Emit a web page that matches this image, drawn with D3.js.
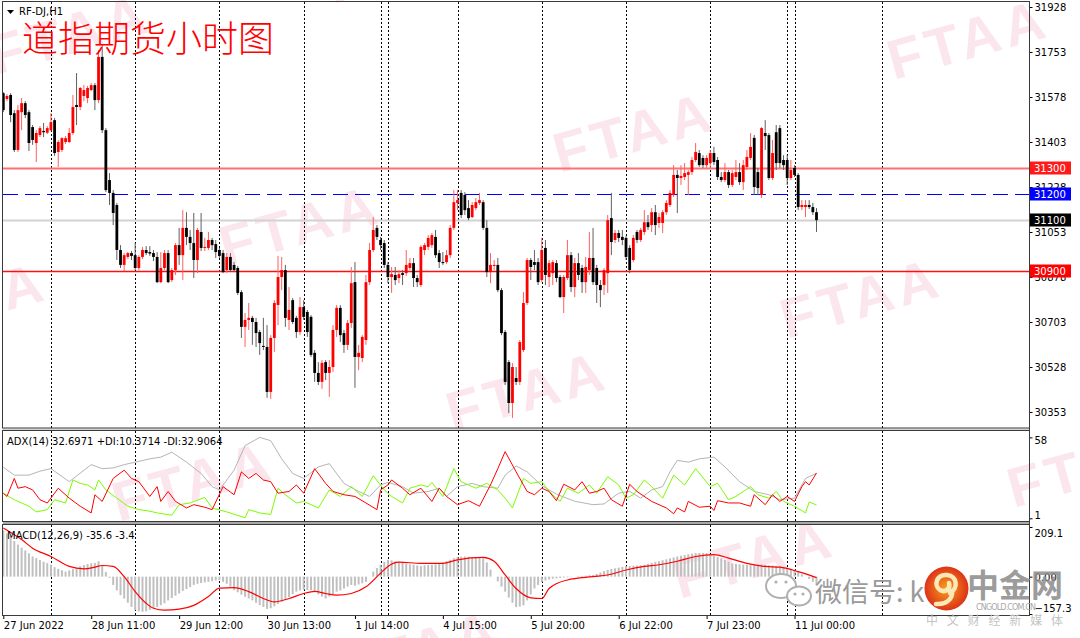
<!DOCTYPE html>
<html>
<head>
<meta charset="utf-8">
<script src="https://cdn.jsdelivr.net/npm/d3@7"></script>
<style>
  html, body { margin: 0; padding: 0; background: #fff; }
  svg { display: block; font-family: "DejaVu Sans", sans-serif; }
</style>
</head>
<body>
<svg id="chart" width="1080" height="638"></svg>
<script>
// ---- data ----
// hourly candles, [open, high, low, close]
const ohlc = [
  [31593,31597,31519,31527],[31570,31589,31562,31582],[31586,31593,31480,31508],[31515,31527,31364,31372],
  [31372,31547,31364,31527],[31519,31574,31449,31554],[31554,31562,31496,31508],[31519,31527,31368,31399],
  [31461,31469,31392,31411],[31399,31449,31325,31438],[31430,31465,31422,31457],[31446,31477,31422,31441],
  [31439,31465,31434,31457],[31449,31515,31445,31480],[31488,31496,31349,31360],[31364,31411,31306,31403],
  [31372,31422,31364,31418],[31403,31426,31395,31418],[31403,31457,31399,31438],[31438,31586,31430,31539],
  [31547,31671,31469,31539],[31539,31617,31527,31613],[31582,31625,31562,31605],[31574,31621,31554,31613],
  [31605,31632,31601,31624],[31624,31632,31527,31566],[31566,31761,31554,31734],[31734,31780,31438,31449],
  [31449,31457,31208,31216],[31255,31282,31158,31205],[31205,31216,31080,31127],[31158,31166,30944,30983],
  [30983,31002,30913,30925],[30925,30971,30901,30963],[30956,30975,30948,30971],[30971,30979,30944,30960],
  [30963,31010,30905,30913],[30913,30963,30905,30956],[30956,30995,30948,30983],[30983,30998,30963,30971],
  [30975,30998,30960,30969],[30971,30983,30940,30956],[30956,30975,30854,30858],[30858,30975,30854,30913],
  [30913,30983,30905,30971],[30971,30983,30854,30858],[30866,30913,30858,30905],[30905,31010,30886,31002],
  [31002,31069,30925,30963],[30963,31138,30866,31069],[31069,31130,31002,31034],[31034,31061,30983,31010],
  [31010,31127,30874,30944],[30944,31069,30893,31061],[31053,31127,30979,30991],[30991,31030,30979,30995],
  [30991,31053,30983,31022],[31022,31030,30983,31002],[31006,31022,30952,30975],[30983,30991,30952,30960],
  [30971,30983,30893,30897],[30905,30971,30893,30956],[30956,30971,30897,30905],[30925,30936,30897,30905],
  [30913,30921,30808,30816],[30819,30827,30641,30684],[30684,30738,30606,30711],[30711,30777,30672,30719],
  [30719,30727,30614,30703],[30703,30719,30606,30660],[30664,30672,30575,30621],[30610,30719,30594,30606],
  [30606,30691,30408,30431],[30431,30652,30404,30641],[30641,30788,30587,30777],[30769,30960,30691,30878],
  [30878,30956,30827,30905],[30905,30925,30684,30719],[30711,30839,30672,30750],[30788,30796,30695,30703],
  [30719,30727,30641,30664],[30664,30800,30652,30761],[30761,30788,30711,30723],[30742,30750,30645,30664],
  [30723,30730,30567,30575],[30583,30594,30470,30505],[30505,30547,30458,30470],[30470,30555,30443,30544],
  [30547,30555,30477,30505],[30505,30555,30412,30528],[30528,30691,30509,30672],[30672,30769,30645,30758],
  [30758,30769,30625,30652],[30660,30672,30583,30614],[30614,30711,30594,30699],[30699,30917,30680,30854],
  [30858,30936,30447,30567],[30567,30614,30516,30583],[30563,30652,30547,30645],[30633,30886,30614,30858],
  [30858,31010,30847,30983],[30983,31111,30975,31061],[31069,31080,31022,31034],[31022,31034,30983,31002],
  [31010,31022,30913,30925],[30925,30936,30854,30878],[30878,30917,30816,30889],[30886,30917,30847,30866],
  [30874,30905,30854,30889],[30893,30905,30847,30886],[30893,30983,30882,30925],[30913,30952,30905,30932],
  [30932,30952,30839,30874],[30874,30886,30839,30858],[30847,31002,30839,30995],[30983,31010,30963,31002],
  [30995,31041,30983,31030],[31002,31049,30991,31041],[31034,31061,30952,30963],[30971,30983,30913,30936],
  [30936,30975,30925,30932],[30936,30983,30929,30963],[30963,31080,30952,31069],[31069,31216,31061,31169],
  [31166,31216,31138,31177],[31205,31216,31107,31119],[31197,31208,31119,31138],[31146,31177,31099,31107],
  [31111,31169,31107,31158],[31146,31185,31138,31169],[31166,31205,31158,31177],[31169,31177,31061,31069],
  [31069,31099,30878,30897],[30897,30971,30854,30925],[30921,30944,30905,30925],[30925,30952,30819,30827],
  [30827,30835,30652,30660],[30664,30672,30458,30470],[30547,30555,30349,30388],[30388,30543,30330,30528],
  [30485,30528,30458,30470],[30470,30633,30458,30625],[30594,30819,30586,30777],[30777,30952,30769,30944],
  [30944,30952,30866,30917],[30936,30983,30905,30925],[30936,30952,30847,30858],[30866,31030,30858,30983],
  [30991,31022,30847,30886],[30878,30944,30839,30932],[30893,30944,30847,30936],[30932,30944,30858,30874],
  [30878,30886,30796,30800],[30800,30886,30738,30878],[30874,31022,30866,30963],[30963,30975,30819,30839],
  [30839,30952,30800,30932],[30932,30971,30866,30886],[30913,30925,30816,30858],[30858,30956,30816,30917],
  [30905,31053,30886,30952],[30952,31069,30847,30858],[30913,30925,30777,30847],[30847,30866,30761,30827],
  [30847,30913,30808,30905],[30893,31119,30816,31099],[31107,31205,30963,31014],[31022,31061,31010,31049],
  [31049,31061,31014,31030],[31034,31061,31002,31022],[31030,31038,30944,30956],[30991,31002,30893,30905],
  [30944,31041,30936,31030],[31053,31061,31010,31022],[31022,31069,31014,31061],[31053,31138,31041,31091],
  [31091,31119,31061,31072],[31080,31146,31053,31130],[31130,31158,31041,31080],[31088,31127,31069,31111],
  [31088,31138,31049,31130],[31130,31177,31119,31166],[31158,31216,31150,31205],[31197,31313,31189,31275],
  [31275,31294,31127,31263],[31263,31313,31236,31271],[31267,31321,31255,31282],[31275,31294,31197,31286],
  [31286,31345,31275,31333],[31333,31399,31325,31364],[31360,31372,31306,31313],[31341,31352,31302,31313],
  [31313,31352,31302,31341],[31321,31372,31302,31360],[31360,31384,31313,31325],[31333,31345,31255,31267],
  [31267,31286,31247,31255],[31255,31321,31247,31286],[31286,31294,31224,31236],[31236,31294,31228,31282],
  [31267,31333,31255,31286],[31286,31321,31236,31247],[31247,31333,31216,31313],[31306,31372,31294,31345],
  [31341,31438,31333,31384],[31419,31430,31197,31228],[31286,31302,31197,31224],[31197,31461,31185,31457],
  [31438,31488,31372,31426],[31430,31438,31255,31263],[31263,31411,31255,31360],[31441,31469,31294,31321],
  [31457,31469,31302,31321],[31333,31352,31294,31313],[31333,31352,31236,31263],[31263,31333,31255,31294],
  [31302,31313,31267,31275],[31275,31282,31138,31150],[31150,31177,31138,31158],[31150,31177,31111,31158],
  [31158,31177,31142,31150],[31150,31166,31119,31130],[31130,31146,31053,31099]
];

const priceTicks = [31928, 31753, 31578, 31403, 31228, 31053, 30878, 30703, 30528, 30353];
const levelPrices = [31300, 31200, 31100, 30900];

// bar index where each day starts (period separators)
const dayStartBars = [13, 36, 59, 82, 103, 105, 124, 147, 170, 193, 214, 216, 240];
const timeLabelBars = [0, 24, 48, 72, 96, 120, 144, 168, 192, 216];
const timeLabelText = ["27 Jun 2022", "28 Jun 11:00", "29 Jun 12:00", "30 Jun 13:00", "1 Jul 14:00",
  "4 Jul 15:00", "5 Jul 20:00", "6 Jul 22:00", "7 Jul 23:00", "11 Jul 00:00"];

// ADX(14) lines as [bar, value] vertices
const adxMain = [[0,37],[3,31.4],[7,31.4],[10,34.2],[13,36],[18,26.8],[24,38.8],[27,36],[30,36.5],[33,38.8],
  [37,41.1],[40,42.9],[43,44.1],[46,47.6],[50,40.6],[54,32.6],[57,23.3],[59,21],[63,34.9],[66,52.2],[70,58],
  [73,55.7],[76,42.9],[79,32.6],[82,29.1],[86,37.2],[89,39.5],[93,25.6],[97,19.9],[100,16.4],[103,24.5],
  [105,26.3],[109,23.3],[112,18.7],[116,19.9],[119,22.2],[121,16.4],[124,23.3],[128,25.6],[131,23.3],
  [135,22.2],[137,31.4],[140,37.9],[143,33.7],[147,24],[151,18],[156,13],[161,10.6],[164,11.1],[168,18.7],
  [171,20],[174,15.2],[177,21],[180,23.3],[182,33.7],[184,41.8],[187,40.6],[190,42.9],[194,44.1],[197,37.2],
  [201,26.8],[205,19.9],[209,17.6],[212,14.1],[216,15.2],[219,29.1],[222,32.7]];
const plusDI = [[0,18.7],[3,14.1],[7,9.5],[9,5.5],[12,7.1],[14,14.1],[17,11.8],[19,28],[21,25.6],[23,24.5],
  [25,21],[26,28],[28,21],[31,15.2],[34,9.5],[37,7.1],[40,6],[42,4.8],[46,3.2],[48,10.6],[51,11.8],[55,15.7],
  [57,8.3],[61,5.5],[66,1.4],[67,7.1],[70,4.8],[73,3.7],[75,22.2],[77,17.6],[80,11.8],[82,12.9],[86,8.3],
  [89,21],[92,16.4],[95,23.3],[98,16.4],[101,31],[104,21],[106,16.4],[109,11.8],[111,22.2],[114,24.5],
  [116,23.3],[117,26.3],[120,16.4],[123,36],[125,26.8],[129,22.2],[132,25.6],[135,21],[137,15.2],[139,8.3],
  [142,29.1],[144,25.6],[147,26.8],[149,19.9],[152,12.9],[154,22.2],[157,18.7],[160,24.5],[162,18.7],
  [165,30.3],[168,24.5],[170,15.2],[172,17.6],[175,28],[177,23.3],[180,15.2],[183,31.4],[186,24.5],[189,36],
  [193,23.3],[195,25.6],[198,14.1],[200,16.4],[204,23.3],[206,17.6],[209,15.2],[211,19.9],[213,12.9],
  [216,9.5],[219,4.8],[220,12.5],[222,10.4]];
const minusDI = [[0,18.7],[1,16.4],[3,29.1],[4,22.2],[6,23.3],[8,21],[10,14.1],[12,11.8],[15,22.2],[18,15.2],
  [21,9.5],[24,4.8],[25,17.6],[27,12.9],[30,29.1],[33,34.9],[35,29.1],[37,26.8],[40,16.4],[42,23.3],[43,12.9],
  [45,19.9],[47,12.9],[50,8.3],[52,10.6],[55,8.8],[57,7.1],[60,23.3],[63,17.6],[65,33.7],[67,29.1],[69,32.6],
  [71,28],[73,26.8],[75,18.7],[78,19.9],[80,24.5],[82,18.7],[85,36],[88,25.6],[90,19.9],[93,17.6],[96,16.4],
  [99,11.8],[102,7.1],[103,21],[105,24.5],[106,28],[109,22.2],[111,17.6],[114,22.2],[117,12.9],[119,22.2],
  [121,16.4],[124,10.6],[127,13.4],[130,9.5],[133,24.5],[135,36],[137,48],[140,33.7],[143,19.9],[145,17.6],
  [147,22.2],[149,19.9],[151,13.4],[153,25],[156,21],[158,26.8],[160,18.7],[162,19.9],[164,22.2],[166,14.1],
  [169,9.5],[171,25],[173,19.9],[177,12.9],[181,8.3],[183,4.2],[184,8.3],[186,5.5],[187,12.9],[190,8.8],
  [193,9.5],[194,6.5],[195,13.4],[198,11.8],[201,11.8],[204,9.5],[205,17.6],[208,10.6],[210,17.6],[212,12.9],
  [214,16.4],[216,12.9],[218,23.3],[219,26.8],[220,24.5],[222,32.9]];

// MACD(12,26,9): histogram per bar, signal as [bar, value]
const macdHist = [195,182,170,150,135,122,110,98,85,78,70,63,57,50,40,33,27,21,26,33,36,44,49,53,56,58,65,
  45,20,-5,-35,-58,-78,-92,-110,-127,-141,-146,-148,-146,-140,-133,-128,-120,-112,-100,-90,-80,-71,-60,-52,
  -44,-35,-30,-27,-24,-22,-19,-16,-14,-22,-30,-42,-57,-66,-76,-85,-92,-100,-110,-120,-128,-136,-133,-125,
  -115,-106,-96,-86,-74,-63,-58,-55,-56,-57,-66,-75,-84,-92,-84,-74,-63,-58,-50,-42,-35,-38,-33,-28,-22,
  0,21,36,50,62,71,69,65,62,58,55,52,50,47,45,48,49,50,52,55,60,66,71,78,82,84,85,84,82,80,79,78,60,30,0,
  -20,-42,-63,-88,-110,-128,-126,-121,-100,-75,-50,-35,-22,-16,-12,-9,-7,-5,-4,-3,-1,0,2,3,4,6,7,12,17,23,
  28,32,35,38,41,44,45,46,47,48,50,54,58,62,65,69,73,77,81,85,88,91,94,97,99,100,100,99,94,88,83,78,70,63,
  56,54,52,51,50,50,49,50,51,50,48,47,45,44,40,37,34,30,20,10,0,-10,-22,-36];
const macdSignal = [[0,205],[5,156],[8,120],[13,85],[18,43],[22,33],[25,40],[27,47],[30,43],[33,0],[36,-63],
  [39,-112],[41,-133],[44,-141],[48,-137],[52,-121],[56,-84],[59,-48],[63,-46],[67,-63],[71,-92],[74,-106],
  [78,-92],[82,-71],[85,-62],[88,-71],[91,-78],[95,-71],[99,-43],[103,15],[105,43],[108,61],[114,56],
  [120,56],[124,71],[131,81],[134,65],[137,7],[140,-50],[144,-89],[147,-92],[149,-50],[154,-14],[161,0],
  [165,7],[170,28],[175,43],[179,50],[184,65],[189,85],[194,93],[198,78],[203,56],[208,43],[212,40],
  [217,21],[222,-4]];

// ---- layout ----
const W = 1080, H = 638;
const L = 3, R = 1029;
const mainP = { top: 2, bottom: 428.5 };
const adxP = { top: 431, bottom: 522 };
const macdP = { top: 525, bottom: 616 };

const svg = d3.select("#chart");
const defs = svg.append("defs");

const x = d3.scaleLinear().domain([0, 222]).range([3.3, 816.5]);
const yMain = d3.scaleLinear().domain([30353, 31928]).range([412, 7]);
const yAdx = d3.scaleLinear().domain([1, 58]).range([518.3, 437.4]);
const yMacd = d3.scaleLinear().domain([-157.3, 209.1]).range([614, 527]);

svg.append("rect").attr("width", W).attr("height", H).attr("fill", "#fff");

function makeClip(id, p) {
  defs.append("clipPath").attr("id", id)
    .append("rect").attr("x", L).attr("y", p.top).attr("width", R - L).attr("height", p.bottom - p.top);
}
makeClip("clipMain", mainP);
makeClip("clipAdx", adxP);
makeClip("clipMacd", macdP);

// watermark "FTAA"
const wmCenters = [[70,34],[407,-37],[-34,302],[300,225],[634,132],[968,39],[193,481],[527,391],
  [861,298],[1195,205],[420,650],[754,558],[1088,467]];
svg.append("g").selectAll("text").data(wmCenters).join("text")
  .attr("transform", d => `translate(${d[0]},${d[1]}) rotate(-15.6)`)
  .attr("text-anchor", "middle").attr("dominant-baseline", "central")
  .attr("font-family", "Liberation Sans, Arial, sans-serif").attr("font-weight", "bold")
  .attr("font-size", 56).attr("letter-spacing", 5)
  .attr("fill", "#fce6ee")
  .text("FTAA");

// panel gaps
svg.append("rect").attr("x", L).attr("y", mainP.bottom).attr("width", R - L).attr("height", adxP.top - mainP.bottom).attr("fill", "#d4d4d4");
svg.append("rect").attr("x", L).attr("y", adxP.bottom).attr("width", R - L).attr("height", macdP.top - adxP.bottom).attr("fill", "#a8a8a8");

// period separators
[["clipMain", mainP], ["clipAdx", adxP], ["clipMacd", macdP]].forEach(([id, p]) => {
  svg.append("g").attr("clip-path", `url(#${id})`)
    .selectAll("line").data(dayStartBars).join("line")
    .attr("x1", d => Math.round(x(d)) + 0.5).attr("x2", d => Math.round(x(d)) + 0.5)
    .attr("y1", p.top).attr("y2", p.bottom)
    .attr("stroke", "#000").attr("stroke-width", 1).attr("stroke-dasharray", "2,2");
});

// horizontal level lines
const levelStyle = [
  { stroke: "#ff7070", width: 2, dash: null, box: "#ff1a1a" },
  { stroke: "#0000ff", width: 1, dash: "15,7", box: "#0000ff" },
  { stroke: "#d2d2d2", width: 2, dash: null, box: "#000" },
  { stroke: "#ff1010", width: 1.3, dash: null, box: "#ff0000" }
];
svg.append("g").selectAll("line").data(levelPrices).join("line")
  .attr("x1", L).attr("x2", R)
  .attr("y1", d => Math.round(yMain(d)) + 0.5).attr("y2", d => Math.round(yMain(d)) + 0.5)
  .attr("stroke", (d, i) => levelStyle[i].stroke)
  .attr("stroke-width", (d, i) => levelStyle[i].width)
  .attr("stroke-dasharray", (d, i) => levelStyle[i].dash);

// candles
const gC = svg.append("g").attr("clip-path", "url(#clipMain)");
const isUp = d => d[3] >= d[0];
gC.selectAll("line").data(ohlc).join("line")
  .attr("x1", (d, i) => x(i)).attr("x2", (d, i) => x(i))
  .attr("y1", d => yMain(d[1])).attr("y2", d => yMain(d[2]))
  .attr("stroke", d => isUp(d) ? "#ff6060" : "#606060").attr("stroke-width", 1);
gC.selectAll("rect").data(ohlc).join("rect")
  .attr("x", (d, i) => x(i) - 1.4).attr("width", 2.8)
  .attr("y", d => yMain(Math.max(d[0], d[3])))
  .attr("height", d => Math.max(1, Math.abs(yMain(d[0]) - yMain(d[3]))))
  .attr("fill", d => isUp(d) ? "#ff0000" : "#000");

// ADX lines
const gA = svg.append("g").attr("clip-path", "url(#clipAdx)");
const adxLine = d3.line().x(d => x(d[0])).y(d => yAdx(d[1]));
[[adxMain, "#b4b4b4"], [plusDI, "#7cfc00"], [minusDI, "#ff0000"]].forEach(([s, c]) => {
  gA.append("path").datum(s).attr("d", adxLine).attr("fill", "none").attr("stroke", c).attr("stroke-width", 1);
});

// MACD
const gM = svg.append("g").attr("clip-path", "url(#clipMacd)");
gM.selectAll("rect").data(macdHist).join("rect")
  .attr("x", (d, i) => x(i) - 1).attr("width", 2)
  .attr("y", d => yMacd(Math.max(0, d)))
  .attr("height", d => Math.abs(yMacd(d) - yMacd(0)))
  .attr("fill", "#c0c0c0");
gM.append("path").datum(macdSignal)
  .attr("d", d3.line().curve(d3.curveMonotoneX).x(d => x(d[0])).y(d => yMacd(d[1])))
  .attr("fill", "none").attr("stroke", "#ff0000").attr("stroke-width", 1.2);

// panel borders
[mainP, adxP, macdP].forEach(p => {
  svg.append("rect").attr("x", L - 0.5).attr("y", p.top - 0.5).attr("width", R - L + 1).attr("height", p.bottom - p.top)
    .attr("fill", "none").attr("stroke", "#3a3a3a").attr("stroke-width", 1);
});

// axes
function styleAxis(g) {
  g.select(".domain").remove();
  g.attr("font-family", "DejaVu Sans, sans-serif").attr("font-size", 10);
  g.selectAll("text").attr("fill", "#000");
  g.selectAll("line").attr("stroke", "#000");
}
svg.append("g").attr("transform", `translate(${R + 0.5},0)`)
  .call(d3.axisRight(yMain).tickValues(priceTicks).tickSize(3).tickPadding(2).tickFormat(d3.format("d")))
  .call(styleAxis);

// level price tags
const tags = svg.append("g");
levelPrices.forEach((v, i) => {
  const yy = Math.round(yMain(v));
  tags.append("rect").attr("x", R + 1).attr("y", yy - 6.5).attr("width", 41).attr("height", 13)
    .attr("fill", levelStyle[i].box);
  tags.append("text").attr("x", R + 5).attr("y", yy).attr("dy", "0.35em")
    .attr("font-size", 10).attr("fill", "#fff").text(v);
});

// ADX axis
svg.append("g").attr("transform", `translate(${R + 0.5},0)`)
  .call(d3.axisRight(yAdx).tickValues([58, 1]).tickSize(3).tickPadding(2).tickFormat(d3.format("d")))
  .call(styleAxis)
  .call(g => g.selectAll("text").attr("y", d => d === 58 ? 3 : -3));

// MACD axis
svg.append("g").attr("transform", `translate(${R + 0.5},0)`)
  .call(d3.axisRight(yMacd).tickValues([209.1, 0, -157.3]).tickSize(3).tickPadding(2)
    .tickFormat(d => d === 0 ? "0.00" : d3.format(".1f")(d)))
  .call(styleAxis)
  .call(g => g.selectAll("text").attr("y", d => d > 0 ? 6 : (d < 0 ? -6 : 1)));

// time axis
svg.append("g").attr("transform", `translate(0,${macdP.bottom})`)
  .call(d3.axisBottom(x).tickValues(timeLabelBars).tickSize(3).tickPadding(3)
    .tickFormat((d, i) => timeLabelText[i]))
  .call(styleAxis)
  .call(g => g.selectAll("text").attr("text-anchor", "start").attr("x", 0));

// right border full height
svg.append("line").attr("x1", R + 0.5).attr("x2", R + 0.5).attr("y1", mainP.top - 0.5).attr("y2", macdP.bottom)
  .attr("stroke", "#3a3a3a");

// labels
svg.append("path").attr("d", "M7,10 L14,10 L10.5,14 Z").attr("fill", "#000");
svg.append("text").attr("x", 19).attr("y", 15).attr("font-size", 10).attr("fill", "#000").text("RF-DJ,H1");
svg.append("text").attr("x", 22).attr("y", 52)
  .attr("font-family", "Noto Sans CJK SC, sans-serif").attr("font-weight", 300)
  .attr("font-size", 36).attr("fill", "#ff0000").text("道指期货小时图");
svg.append("text").attr("x", 7).attr("y", 445).attr("font-size", 10).attr("fill", "#000")
  .text("ADX(14) 32.6971 +DI:10.3714 -DI:32.9064");
svg.append("text").attr("x", 7).attr("y", 539).attr("font-size", 10).attr("fill", "#000")
  .text("MACD(12,26,9) -35.6 -3.4");

// bottom-right logo watermark
const logo = svg.append("g");
logo.append("ellipse").attr("cx", 781).attr("cy", 586).attr("rx", 15).attr("ry", 12)
  .attr("fill", "#fff").attr("stroke", "#b0b0b0").attr("stroke-width", 2);
logo.append("ellipse").attr("cx", 799).attr("cy", 596).attr("rx", 12).attr("ry", 9.5)
  .attr("fill", "#fff").attr("stroke", "#b0b0b0").attr("stroke-width", 2);
[[776, 582], [786, 582], [795, 594], [803, 594]].forEach(p =>
  logo.append("circle").attr("cx", p[0]).attr("cy", p[1]).attr("r", 1.6).attr("fill", "#b0b0b0"));
logo.append("text").attr("x", 815).attr("y", 602)
  .attr("font-family", "Noto Sans CJK SC, sans-serif").attr("font-size", 27)
  .attr("fill", "#9a9a9a").text("微信号: k");
const grad = defs.append("radialGradient").attr("id", "logoGrad");
grad.append("stop").attr("offset", "0%").attr("stop-color", "#f6a21c");
grad.append("stop").attr("offset", "100%").attr("stop-color", "#dd3318");
logo.append("circle").attr("cx", 946.5).attr("cy", 588.5).attr("r", 22).attr("fill", "url(#logoGrad)");
logo.append("path")
  .attr("d", "M950,593 C958,589 958,576 947,575 C937,574 933,585 940,590 C945,593 951,589 949,583 M952,591 C953,599 946,605 936,604")
  .attr("fill", "none").attr("stroke", "#fde9b8").attr("stroke-width", 4.5).attr("stroke-linecap", "round");
logo.append("text").attr("x", 967).attr("y", 597)
  .attr("font-family", "Noto Sans CJK SC, sans-serif").attr("font-weight", "bold").attr("font-size", 32)
  .attr("fill", "#8e8e8e").attr("fill-opacity", 0.9).text("中金网");
logo.append("text").attr("x", 976).attr("y", 610).attr("font-size", 8).attr("textLength", 60)
  .attr("fill", "#a8a8a8").text("CNGOLD.COM.CN");
logo.append("text").attr("x", 926).attr("y", 625)
  .attr("font-family", "Noto Sans CJK SC, sans-serif").attr("font-size", 12).attr("textLength", 137)
  .attr("fill", "#c4c4c4").text("中文财经新媒体");
</script>
</body>
</html>
